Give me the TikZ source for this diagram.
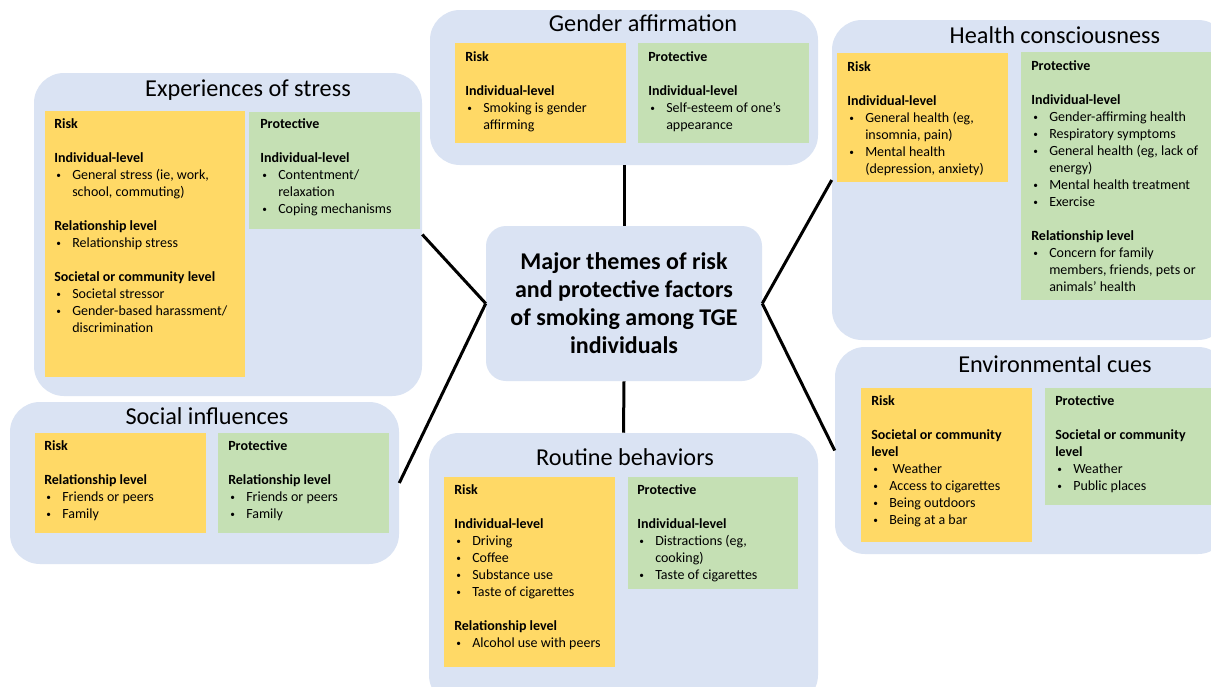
\documentclass[tikz,border=0pt]{standalone}
\usepackage{fontspec}
\setmainfont{Carlito}
\usetikzlibrary{fit}
\definecolor{panelblue}{HTML}{DAE3F3}
\definecolor{riskyellow}{HTML}{FFD966}
\definecolor{protgreen}{HTML}{C5E0B4}
\newcommand{\bl}{\hspace*{1.5pt}\makebox[12pt][l]{\raisebox{0.9pt}{\fontsize{7}{7}\selectfont\textbullet}}}
\newcommand{\ct}{\hspace*{13.5pt}}
\newcommand{\gap}{\\[12.75pt]}
\begin{document}
\begin{tikzpicture}[x=0.75pt,y=-0.75pt,
 panel/.style={fill=panelblue, rounded corners=22.5pt, inner sep=0pt, draw=none},
 riskbox/.style={fill=riskyellow, inner sep=0pt, draw=none},
 protbox/.style={fill=protgreen, inner sep=0pt, draw=none},
 title/.style={font=\fontsize{18.2}{21}\selectfont, anchor=center, inner sep=0pt},
 body/.style={font=\fontsize{10.5}{12.75}\selectfont, align=left, anchor=north west, inner sep=0pt, yshift=8.925pt},
 centerbox/.style={fill=panelblue, rounded corners=15pt, minimum width=207pt, minimum height=116.25pt, inner sep=0pt, align=center, font=\fontsize{18}{21}\selectfont\bfseries},
 link/.style={line width=2.25pt, black}]
\clip (0,0) rectangle (1211,686);
\fill[white] (0,0) rectangle (1211,686);

% ---------- Experiences of stress
\node[panel, fit={(34,73) (422,396)}] (stress) {};
\node[title] (stressT) at (248,90) {Experiences of stress};
\node[riskbox, fit={(45,111) (245,377)}] (stressR) {};
\node[protbox, fit={(249,112) (420,229)}] (stressP) {};
\node[body] (stressRt) at (54,128) {\strut\textbf{Risk}\gap
\textbf{Individual-level}\\
\bl General stress (ie, work,\\
\ct school, commuting)\gap
\textbf{Relationship level}\\
\bl Relationship stress\gap
\textbf{Societal or community level}\\
\bl Societal stressor\\
\bl Gender-based harassment/\\
\ct discrimination};
\node[body] (stressPt) at (260,128) {\strut\textbf{Protective}\gap
\textbf{Individual-level}\\
\bl Contentment/\\
\ct relaxation\\
\bl Coping mechanisms};

% ---------- Gender affirmation
\node[panel, fit={(430,10) (818,165)}] (gender) {};
\node[title] (genderT) at (643,23) {Gender affirmation};
\node[riskbox, fit={(455,43) (626,143)}] (genderR) {};
\node[protbox, fit={(638,43) (809,143)}] (genderP) {};
\node[body] (genderRt) at (465,61) {\strut\textbf{Risk}\gap
\textbf{Individual-level}\\
\bl Smoking is gender\\
\ct affirming};
\node[body] (genderPt) at (648,61) {\strut\textbf{Protective}\gap
\textbf{Individual-level}\\
\bl Self-esteem of one’s\\
\ct appearance};

% ---------- Health consciousness
\node[panel, fit={(832,20) (1228,340)}] (health) {};
\node[title] (healthT) at (1055,35) {Health consciousness};
\node[riskbox, fit={(837,53) (1008,182)}] (healthR) {};
\node[protbox, fit={(1021,52) (1222,300)}] (healthP) {};
\node[body] (healthRt) at (847,71) {\strut\textbf{Risk}\gap
\textbf{Individual-level}\\
\bl General health (eg,\\
\ct insomnia, pain)\\
\bl Mental health\\
\ct (depression, anxiety)};
\node[body] (healthPt) at (1031,70) {\strut\textbf{Protective}\gap
\textbf{Individual-level}\\
\bl Gender-affirming health\\
\bl Respiratory symptoms\\
\bl General health (eg, lack of\\
\ct energy)\\
\bl Mental health treatment\\
\bl Exercise\gap
\textbf{Relationship level}\\
\bl Concern for family\\
\ct members, friends, pets or\\
\ct animals’ health};

% ---------- Social influences
\node[panel, fit={(10,402) (399,564)}] (social) {};
\node[title] (socialT) at (207,416) {Social influences};
\node[riskbox, fit={(35,433) (206,533)}] (socialR) {};
\node[protbox, fit={(218,433) (389,533)}] (socialP) {};
\node[body] (socialRt) at (44,450) {\strut\textbf{Risk}\gap
\textbf{Relationship level}\\
\bl Friends or peers\\
\bl Family};
\node[body] (socialPt) at (228,450) {\strut\textbf{Protective}\gap
\textbf{Relationship level}\\
\bl Friends or peers\\
\bl Family};

% ---------- Routine behaviors
\node[panel, fit={(429,433) (818,705)}] (routine) {};
\node[title] (routineT) at (625,457) {Routine behaviors};
\node[riskbox, fit={(444,477) (615,667)}] (routineR) {};
\node[protbox, fit={(628,477) (798,589)}] (routineP) {};
\node[body] (routineRt) at (454,494) {\strut\textbf{Risk}\gap
\textbf{Individual-level}\\
\bl Driving\\
\bl Coffee\\
\bl Substance use\\
\bl Taste of cigarettes\gap
\textbf{Relationship level}\\
\bl Alcohol use with peers};
\node[body] (routinePt) at (637,494) {\strut\textbf{Protective}\gap
\textbf{Individual-level}\\
\bl Distractions (eg,\\
\ct cooking)\\
\bl Taste of cigarettes};

% ---------- Environmental cues
\node[panel, fit={(835,347) (1228,554)}] (env) {};
\node[title] (envT) at (1055,364) {Environmental cues};
\node[riskbox, fit={(861,388) (1032,542)}] (envR) {};
\node[protbox, fit={(1045,388) (1222,505)}] (envP) {};
\node[body] (envRt) at (871,405) {\strut\textbf{Risk}\gap
\textbf{Societal or community}\\
\textbf{level}\\
\bl\hspace{2.5pt}Weather\\
\bl Access to cigarettes\\
\bl Being outdoors\\
\bl Being at a bar};
\node[body] (envPt) at (1055,405) {\strut\textbf{Protective}\gap
\textbf{Societal or community}\\
\textbf{level}\\
\bl Weather\\
\bl Public places};

% ---------- Center
\node[centerbox] (c) at (624,303.5) {Major themes of risk\\and protective factors\\of smoking among TGE\\individuals};

% ---------- Connectors
\draw[link] (c.west) -- (stress.east);
\draw[link] (c.west) -- (social.east);
\draw[link] (c.east) -- (health.west);
\draw[link] (c.east) -- (env.west);
\draw[link] (c.north) -- (gender.south);
\draw[link] (c.south) -- (routine.north);
\end{tikzpicture}
\end{document}
